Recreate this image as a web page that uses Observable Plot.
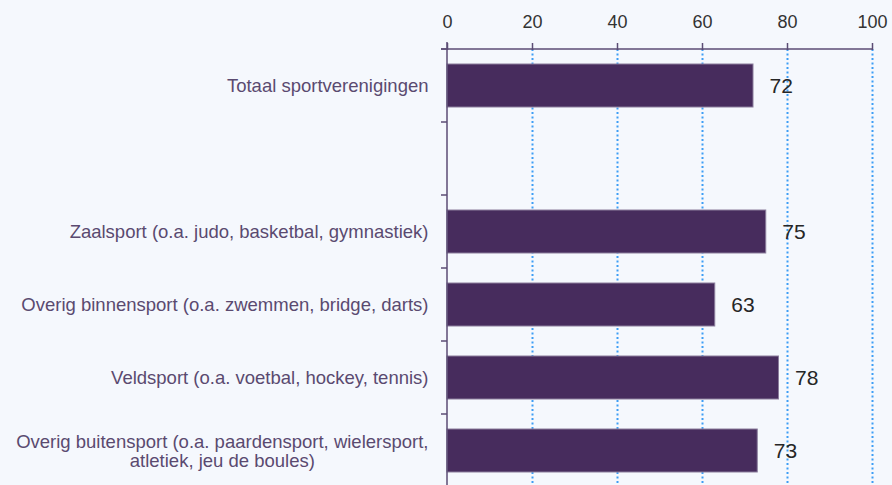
<!DOCTYPE html>
<html>
<head>
<meta charset="utf-8">
<script src="https://cdn.jsdelivr.net/npm/d3@7"></script>
<script src="https://cdn.jsdelivr.net/npm/@observablehq/plot@0.6"></script>
<style>
  html, body { margin: 0; padding: 0; background: #f5f8fd; overflow: hidden; }
  #chart svg { display: block; }
</style>
</head>
<body>
<div id="chart"></div>
<script>
const categories = [
  "Totaal sportverenigingen",
  "",
  "Zaalsport (o.a. judo, basketbal, gymnastiek)",
  "Overig binnensport (o.a. zwemmen, bridge, darts)",
  "Veldsport (o.a. voetbal, hockey, tennis)",
  "Overig buitensport (o.a. paardensport, wielersport,\natletiek, jeu de boules)"
];
const values = [72, null, 75, 63, 78, 73];
const xTicks = [0, 20, 40, 60, 80, 100];

const data = categories.map((c, i) => ({category: c, value: values[i]})).filter(d => d.value != null);

const axisColor = "#5b4c75";
const font = "'Liberation Sans', Arial, sans-serif";

// top axis line and band-boundary ticks on the y axis, drawn from the scales
function axisFrame(index, scales, vals, dims) {
  const g = d3.create("svg:g");
  const x = scales.x, y = scales.y;
  const x0 = x(0);
  const yTop = y(categories[0]);
  g.append("line")
    .attr("x1", x0 - 6).attr("x2", x(100))
    .attr("y1", yTop).attr("y2", yTop)
    .attr("stroke", axisColor).attr("stroke-width", 1.5);
  g.append("line")
    .attr("x1", x0).attr("x2", x0)
    .attr("y1", yTop - 7).attr("y2", dims.height)
    .attr("stroke", axisColor).attr("stroke-width", 1.5);
  for (const c of y.domain()) {
    const yy = y(c);
    g.append("line")
      .attr("x1", x0 - 6).attr("x2", x0)
      .attr("y1", yy).attr("y2", yy)
      .attr("stroke", axisColor).attr("stroke-width", 1.5);
  }
  return g.node();
}

const chart = Plot.plot({
  width: 892,
  height: 487,
  marginLeft: 447,
  marginRight: 20,
  marginTop: 49,
  marginBottom: 0,
  style: {background: "#f5f8fd", fontFamily: font},
  x: {domain: [0, 100], axis: null},
  y: {domain: categories, padding: 0, axis: null},
  marks: [
    Plot.gridX(xTicks.filter(t => t > 0), {stroke: "#3d9df5", strokeOpacity: 1, strokeWidth: 2, strokeDasharray: "2,2.5"}),
    Plot.barX(data, {
      y: "category", x: "value",
      fill: "#472c5d", stroke: "#8b7d9c", strokeWidth: 1,
      insetTop: 15, insetBottom: 15
    }),
    Plot.text(data, {
      y: "category", x: "value", text: d => String(d.value),
      textAnchor: "start", dx: 16, fontSize: 21, fill: "#262626", fontFamily: font
    }),
    Plot.axisX({
      anchor: "top", ticks: xTicks, tickSize: 7, tickPadding: 15, label: null,
      fontSize: 18, color: "#333", stroke: axisColor, strokeWidth: 1.5,
      tickFormat: d => String(d)
    }),
    Plot.axisY({
      anchor: "left", tickSize: 0, tickPadding: 19, fontSize: 18.5, fill: "#5a4a70", label: null,
      tickFormat: d => d, lineHeight: 1.05
    }),
    axisFrame
  ]
});
document.getElementById("chart").appendChild(chart);

// center multi-line y labels within their block (as in the original)
chart.querySelectorAll("text").forEach(t => {
  const spans = t.querySelectorAll("tspan");
  if (spans.length > 1) {
    const widths = Array.from(spans, s => s.getComputedTextLength());
    const maxW = Math.max(...widths);
    t.setAttribute("text-anchor", "middle");
    spans.forEach(s => s.setAttribute("x", -maxW / 2));
  }
});
</script>
</body>
</html>
